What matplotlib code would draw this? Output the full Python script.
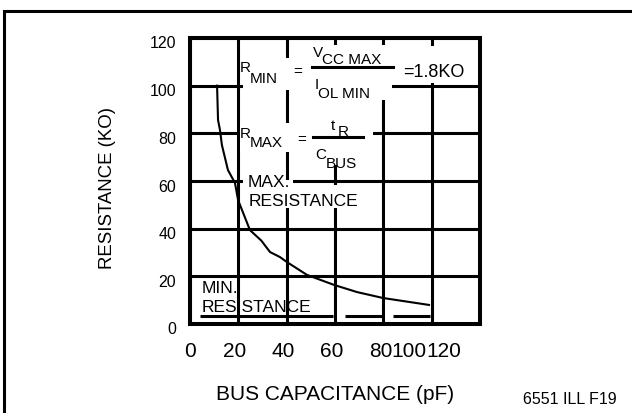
import matplotlib
matplotlib.use("Agg")
import matplotlib.pyplot as plt
from matplotlib.patches import Rectangle
from matplotlib.transforms import ScaledTranslation

plt.rcParams['font.family'] = ['Liberation Sans', 'DejaVu Sans']

# Curve: bus capacitance (pF) vs max resistance (KO)
bus_cap = [11.2, 11.6, 12.4, 13.2, 15.7, 18.6, 19.9, 24.8, 29.5, 33.1, 37.2,
           40.1, 48.4, 59.6, 69.1, 79.9, 98.9]
resistance = [100, 85.6, 81.4, 75.1, 64.6, 59.2, 52, 39.4, 35, 30.2, 28.1,
              26, 20.6, 16.4, 13.4, 10.9, 8]

# Axis labels / ticks
grid_values = [0, 20, 40, 60, 80, 100, 120]
y_tick_labels = ['0', '20', '40', '60', '80', '100', '120']
x_tick_labels = ['0', '20', '40', '60', '80', '100', '120']
# the x labels sit crowded in the original ("80100120")
x_tick_pos = [0, 18.6, 38.5, 58.7, 78.8, 90.6, 104.9]

# White boxes behind the formulas (they break the grid lines)
masks = [(22.0, 45.5, 98.2, 111.6), (45.5, 83.6, 94.0, 117.1),
         (20.7, 49.6, 72.2, 84.3), (49.6, 75.7, 66.7, 94.0),
         (84.8, 115.8, 101.1, 116.8), (21.9, 42.6, 54.6, 60.4),
         (22.8, 70.3, 48.7, 58.3)]

# broken line just above the bottom edge
dash_start = [4.1, 64.1, 84.0]
dash_end = [59.2, 79.4, 99.3]

fig = plt.figure(figsize=(6.32, 4.13), dpi=100)
ax = fig.add_axes([190 / 632, 89 / 413, 290 / 632, 286 / 413])
ax.set_xlim(0, 120)
ax.set_ylim(0, 120)

# Outer frame of the figure
fig.patches.append(Rectangle((4 / 632, -0.05), 1.1, 1 - 11 / 413 + 0.05,
                             transform=fig.transFigure, fill=False,
                             edgecolor='black', linewidth=2.2, clip_on=False))

# Grid
for v in grid_values:
    ax.axvline(v, color='black', linewidth=2.2, zorder=1)
    ax.axhline(v, color='black', linewidth=2.2, zorder=1)

ax.hlines([3.4] * len(dash_start), dash_start, dash_end,
          color='black', linewidth=2.2, zorder=1)

for x0, x1, y0, y1 in masks:
    ax.add_patch(Rectangle((x0, y0), x1 - x0, y1 - y0, facecolor='white',
                           edgecolor='none', zorder=2))

# Resistance curve
ax.plot(bus_cap, resistance, color='black', linewidth=1.5, zorder=3)

# Formulas
fs = 11
ax.text(20.7, 107.4, 'R', fontsize=fs, va='center', zorder=4)
ax.text(24.6, 102.8, 'MIN', fontsize=fs, va='center', zorder=4)
ax.text(44.7, 105.7, '=', fontsize=fs, ha='center', va='center', zorder=4)
ax.text(50.9, 113.9, 'V', fontsize=fs, va='center', zorder=4)
ax.text(54.6, 110.6, 'CC MAX', fontsize=fs, va='center', zorder=4)
ax.plot([50.5, 84.0], [107.8, 107.8], color='black', linewidth=2.2, zorder=4)
ax.text(51.7, 100.3, 'I', fontsize=fs, va='center', zorder=4)
ax.text(53.0, 96.5, 'OL MIN', fontsize=fs, va='center', zorder=4)
ax.text(88.1, 105.7, '=1.8KO', fontsize=13, va='center', zorder=4)

ax.text(20.7, 79.6, 'R', fontsize=fs, va='center', zorder=4)
ax.text(24.6, 75.8, 'MAX', fontsize=fs, va='center', zorder=4)
ax.text(46.3, 77.2, '=', fontsize=fs, ha='center', va='center', zorder=4)
ax.text(58.3, 83.1, 't', fontsize=fs, va='center', zorder=4)
ax.text(61.2, 80.6, 'R', fontsize=fs, va='center', zorder=4)
ax.plot([50.9, 71.6], [78.5, 78.5], color='black', linewidth=2.2, zorder=4)
ax.text(51.7, 70.9, 'C', fontsize=fs, va='center', zorder=4)
ax.text(56.3, 67.1, 'BUS', fontsize=fs, va='center', zorder=4)

ax.text(24.0, 59.2, 'MAX.', fontsize=12.5, va='center', zorder=4)
ax.text(24.4, 51.6, 'RESISTANCE', fontsize=12.5, va='center', zorder=4)
ax.text(5.0, 15.1, 'MIN.', fontsize=12.5, va='center', zorder=4)
ax.text(5.0, 7.1, 'RESISTANCE', fontsize=12.5, va='center', zorder=4)

# Ticks
ax.set_xticks(x_tick_pos)
ax.set_xticklabels(x_tick_labels, fontsize=15)
ax.set_yticks(grid_values)
ax.set_yticklabels(y_tick_labels, fontsize=11.5)
ax.tick_params(axis='x', length=0, pad=13)
ax.tick_params(axis='y', length=0, pad=10)
shift = ScaledTranslation(0, -4.5 / 100, fig.dpi_scale_trans)
for lab in ax.get_yticklabels():
    lab.set_transform(lab.get_transform() + shift)

for sp in ax.spines.values():
    sp.set_linewidth(2.9)
    sp.set_zorder(5)

# Axis titles
fig.text(335 / 632, 1 - 395 / 413, 'BUS CAPACITANCE (pF)', fontsize=15,
         ha='center', va='center')
fig.text(108 / 632, 1 - 188 / 413, 'RESISTANCE (KO)', fontsize=13.4,
         ha='center', va='center', rotation=90)
fig.text(570 / 632, 1 - 400 / 413, '6551 ILL F19', fontsize=11.5,
         ha='center', va='center')

fig.savefig('out.png', dpi=100)
